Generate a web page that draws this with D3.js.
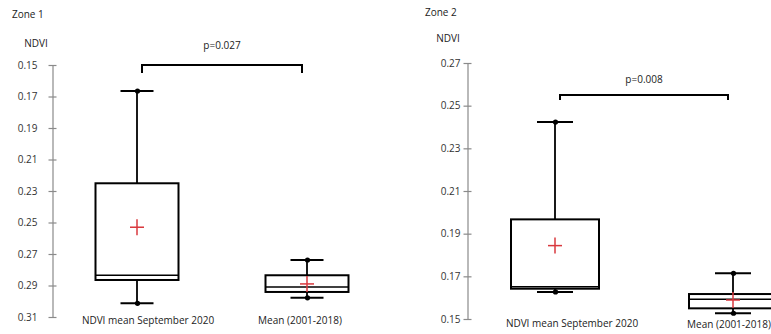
<!DOCTYPE html>
<html>
<head>
<meta charset="utf-8">
<script src="https://cdn.jsdelivr.net/npm/d3@7"></script>
<style>
  body { margin: 0; background: #fff; }
</style>
</head>
<body>
<div id="chart"></div>
<script>
// values
var categories = ["NDVI mean September 2020", "Mean (2001-2018)"];
var zoneNames = ["Zone 1", "Zone 2"];
var pLabels = ["p=0.027", "p=0.008"];

var zone1Ticks = [0.15, 0.17, 0.19, 0.21, 0.23, 0.25, 0.27, 0.29, 0.31];
var zone2Ticks = [0.15, 0.17, 0.19, 0.21, 0.23, 0.25, 0.27];

var zone1Boxes = [
    { min: 0.1665, q1: 0.2251, median: 0.2835, q3: 0.2865, max: 0.3013, mean: 0.2530 },
    { min: 0.2738, q1: 0.2835, median: 0.2910, q3: 0.2941, max: 0.2978, mean: 0.2890 }
];
var zone2Boxes = [
    { min: 0.1627, q1: 0.1642, median: 0.1651, q3: 0.1967, max: 0.2423, mean: 0.1844 },
    { min: 0.1527, q1: 0.1550, median: 0.1592, q3: 0.1617, max: 0.1714, mean: 0.1589 }
];

var font = "'Open Sans', sans-serif";

var svg = d3.select("#chart")
    .append("svg")
    .attr("width", 771)
    .attr("height", 334);

svg.append("rect")
    .attr("width", 771)
    .attr("height", 334)
    .attr("fill", "#fff");

// layout of the two panels
var panels = [
    {
        zone: zoneNames[0], p: pLabels[0], ticks: zone1Ticks, boxes: zone1Boxes,
        domain: [0.15, 0.31], yRange: [65, 317],
        axisX: 52.5, tickPad: 11, xRange: [137, 307],
        boxWidth: 83, capWidth: 33,
        zoneX: 12, zoneY: 18, ndviX: 36, ndviY: 47,
        bracketY: 65, bracketLeg: 8, pY: 49,
        labelY: [324, 324], labelDx: [11, -7]
    },
    {
        zone: zoneNames[1], p: pLabels[1], ticks: zone2Ticks, boxes: zone2Boxes,
        domain: [0.15, 0.27], yRange: [319, 63],
        axisX: 467.5, tickPad: 3, xRange: [555, 733],
        boxWidth: 88, capWidth: 36,
        zoneX: 425, zoneY: 16, ndviX: 448, ndviY: 42,
        bracketY: 95, bracketLeg: 5, pY: 83,
        labelY: [327, 328], labelDx: [17, -4]
    }
];

panels.forEach(drawPanel);

function drawPanel(p) {

    var y = d3.scaleLinear()
        .domain(p.domain)
        .range(p.yRange);

    var x = d3.scalePoint()
        .domain(categories)
        .range(p.xRange);

    var g = svg.append("g");

    var yAxis = d3.axisLeft(y)
        .tickValues(p.ticks)
        .tickFormat(d3.format(".2f"))
        .tickSize(4)
        .tickSizeOuter(0)
        .tickPadding(p.tickPad);

    var axisG = g.append("g")
        .attr("transform", `translate(${p.axisX},0)`)
        .call(yAxis);

    axisG.select(".domain").attr("stroke", "#8a8a8a").attr("stroke-width", 1.2);
    axisG.selectAll(".tick line")
        .attr("x1", 4)
        .attr("stroke", "#8a8a8a")
        .attr("stroke-width", 1.2);
    axisG.selectAll(".tick text")
        .attr("font-family", font)
        .attr("font-size", "10px")
        .attr("fill", "#333");

    g.append("text")
        .attr("x", p.zoneX)
        .attr("y", p.zoneY)
        .attr("font-family", font)
        .attr("font-size", "10px")
        .attr("fill", "#222")
        .text(p.zone);

    g.append("text")
        .attr("x", p.ndviX)
        .attr("y", p.ndviY)
        .attr("text-anchor", "middle")
        .attr("font-family", font)
        .attr("font-size", "10px")
        .attr("fill", "#222")
        .text("NDVI");

    // boxes
    var box = g.selectAll(".box")
        .data(p.boxes)
        .enter()
        .append("g")
        .attr("class", "box");

    box.append("line")
        .attr("x1", (d, i) => x(categories[i]))
        .attr("x2", (d, i) => x(categories[i]))
        .attr("y1", d => y(d.min))
        .attr("y2", d => y(d.q1))
        .attr("stroke", "#000")
        .attr("stroke-width", 1.8);

    box.append("line")
        .attr("x1", (d, i) => x(categories[i]))
        .attr("x2", (d, i) => x(categories[i]))
        .attr("y1", d => y(d.q3))
        .attr("y2", d => y(d.max))
        .attr("stroke", "#000")
        .attr("stroke-width", 1.8);

    ["min", "max"].forEach(function(k) {
        box.append("line")
            .attr("x1", (d, i) => x(categories[i]) - p.capWidth / 2)
            .attr("x2", (d, i) => x(categories[i]) + p.capWidth / 2)
            .attr("y1", d => y(d[k]))
            .attr("y2", d => y(d[k]))
            .attr("stroke", "#000")
            .attr("stroke-width", 2);

        box.append("circle")
            .attr("cx", (d, i) => x(categories[i]) + 0.5)
            .attr("cy", d => y(d[k]))
            .attr("r", 2.6)
            .attr("fill", "#000");
    });

    box.append("rect")
        .attr("x", (d, i) => x(categories[i]) - p.boxWidth / 2)
        .attr("y", d => Math.min(y(d.q1), y(d.q3)))
        .attr("width", p.boxWidth)
        .attr("height", d => Math.abs(y(d.q1) - y(d.q3)))
        .attr("fill", "#fff")
        .attr("stroke", "#000")
        .attr("stroke-width", 2);

    box.append("line")
        .attr("x1", (d, i) => x(categories[i]) - p.boxWidth / 2)
        .attr("x2", (d, i) => x(categories[i]) + p.boxWidth / 2)
        .attr("y1", d => y(d.median))
        .attr("y2", d => y(d.median))
        .attr("stroke", "#000")
        .attr("stroke-width", 1.5);

    // mean cross
    box.append("line")
        .attr("x1", (d, i) => x(categories[i]) - 7)
        .attr("x2", (d, i) => x(categories[i]) + 7)
        .attr("y1", d => y(d.mean))
        .attr("y2", d => y(d.mean))
        .attr("stroke", "#d9393e")
        .attr("stroke-width", 1.5);

    box.append("line")
        .attr("x1", (d, i) => x(categories[i]))
        .attr("x2", (d, i) => x(categories[i]))
        .attr("y1", d => y(d.mean) - 8)
        .attr("y2", d => y(d.mean) + 8)
        .attr("stroke", "#d9393e")
        .attr("stroke-width", 1.5);

    // category labels
    g.selectAll(".cat")
        .data(categories)
        .enter()
        .append("text")
        .attr("class", "cat")
        .attr("x", (d, i) => x(d) + p.labelDx[i])
        .attr("y", (d, i) => p.labelY[i])
        .attr("text-anchor", "middle")
        .attr("font-family", font)
        .attr("font-size", "10px")
        .attr("fill", "#222")
        .text(d => d);

    // significance bracket
    var bx0 = x(categories[0]) + 5;
    var bx1 = x(categories[1]) - 5;

    g.append("path")
        .attr("d", `M${bx0},${p.bracketY + p.bracketLeg}V${p.bracketY}H${bx1}V${p.bracketY + p.bracketLeg}`)
        .attr("fill", "none")
        .attr("stroke", "#000")
        .attr("stroke-width", 2);

    g.append("text")
        .attr("x", (bx0 + bx1) / 2)
        .attr("y", p.pY)
        .attr("text-anchor", "middle")
        .attr("font-family", font)
        .attr("font-size", "10px")
        .attr("fill", "#222")
        .text(p.p);
}
</script>
</body>
</html>
